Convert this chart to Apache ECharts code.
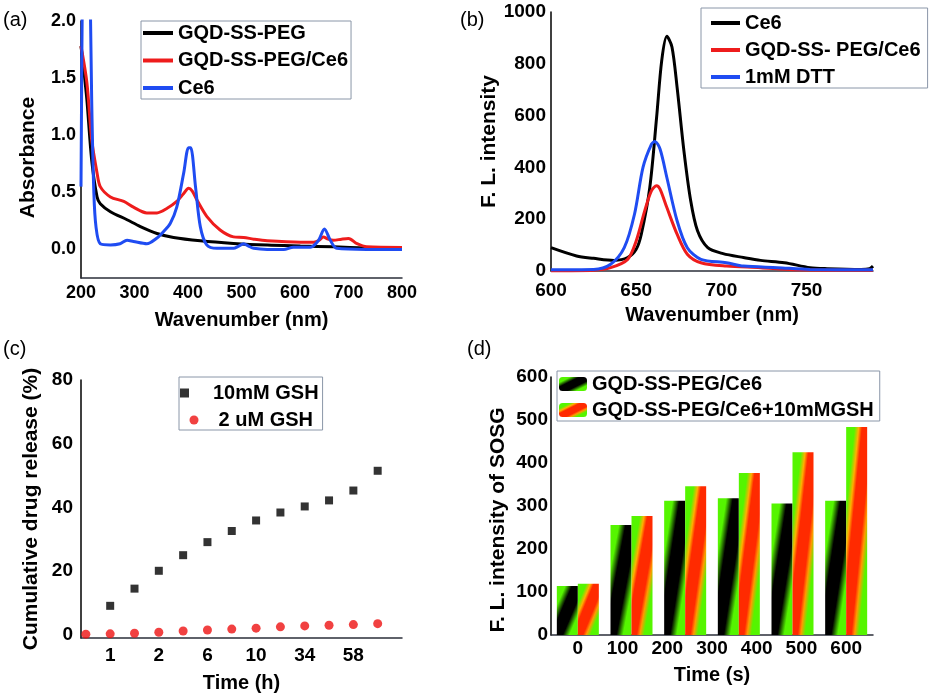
<!DOCTYPE html>
<html>
<head>
<meta charset="utf-8">
<script src="https://cdn.jsdelivr.net/npm/echarts@6/dist/echarts.min.js"></script>
<style>
  html, body { margin: 0; padding: 0; background: #fff; }
  .panel { position: absolute; left: 0; top: 0; width: 932px; height: 698px; }
</style>
</head>
<body>
<div id="pa" class="panel"></div>
<div id="pb" class="panel"></div>
<div id="pc" class="panel"></div>
<div id="pd" class="panel"></div>
<script>
// (a) absorbance, [nm, A]
const absPeg = [[200,1.78],[205,1.58],[211,1.31],[220,0.78],[230,0.46],[236,0.40],[255,0.33],[286,0.26],[311,0.20],
  [342,0.14],[373,0.105],[423,0.076],[485,0.053],[548,0.038],[610,0.03],[672,0.023],[734,0.012],[800,0.005]];
const absPegCe6 = [[200,1.78],[211,1.46],[220,0.96],[230,0.67],[236,0.55],[255,0.46],[280,0.42],[298,0.37],[323,0.32],
  [342,0.32],[361,0.36],[379,0.42],[392,0.49],[401,0.535],[408,0.51],[417,0.43],[435,0.29],[460,0.17],[485,0.11],
  [504,0.105],[523,0.09],[548,0.076],[610,0.064],[635,0.064],[645,0.08],[653,0.11],[662,0.09],[672,0.08],[687,0.09],
  [700,0.096],[716,0.05],[734,0.023],[800,0.018]];
const absCe6 = [[200,0.55],[203,2.5],[206,3.2],[213,3.2],[217,2.3],[220,1.3],[224,0.5],[228,0.2],[236,0.05],[255,0.04],
  [273,0.05],[286,0.08],[298,0.07],[323,0.05],[342,0.1],[354,0.155],[367,0.23],[379,0.37],[392,0.67],[401,0.89],
  [405,0.89],[414,0.55],[423,0.2],[435,0.04],[454,0.01],[485,0.01],[495,0.03],[504,0.05],[513,0.03],[523,0.01],
  [548,0],[579,0],[597,0.02],[629,0.02],[644,0.08],[655,0.18],[666,0.08],[678,0.01],[734,0],[800,0]];

// (b) fluorescence, [nm, intensity]
const flCe6 = [[600,90],[615,58],[625,49],[637,41],[645,52],[650,84],[653,142],[658,323],[662,594],[665,813],[668,906],
  [671,865],[674,710],[678,465],[682,271],[686,155],[692,90],[701,67],[713,52],[723,41],[737,32],[752,13],[762,9],
  [782,6],[787,9],[789,19]];
const flPegCe6 = [[600,0],[625,3],[635,13],[645,45],[650,116],[655,232],[659,310],[662,329],[664,316],[668,245],
  [674,142],[680,65],[688,32],[703,19],[723,13],[742,5],[789,3]];
const flDtt = [[600,5],[625,6],[635,26],[643,90],[649,219],[654,400],[659,490],[661,500],[664,471],[668,361],
  [674,194],[680,90],[688,45],[703,32],[713,19],[733,13],[752,6],[789,5]];

// (c) release, one value per sampling slot
const timeLabels = ['', '1', '', '2', '', '6', '', '10', '', '34', '', '58', ''];
const release10mM = [null, 9.1, 14.5, 20.1, 25.0, 29.1, 32.6, 35.9, 38.4, 40.3, 42.2, 45.3, 51.5];
const release2uM = [0.2, 0.3, 0.5, 0.8, 1.2, 1.5, 1.8, 2.1, 2.5, 2.8, 3.0, 3.2, 3.5];

// (d) SOSG bars
const sosgSlots = ['s1', 's2', 's3', 's4', 's5', 's6'];
const sosgTicks = [0, 100, 200, 300, 400, 500, 600];
const sosgCe6 = [114, 256, 312, 318, 306, 312];
const sosgGsh = [119, 277, 346, 377, 425, 484];

const FONT = 'Liberation Sans';
const txt = (size, weight) => ({ fontFamily: FONT, fontSize: size, fontWeight: weight || 'bold', color: '#000' });

function panelLabel(text, x, y) {
  return { type: 'text', left: x, top: y, style: { text: text, font: '20px ' + FONT, fill: '#000' } };
}

// shift: px to move the rotated title down
function yAxisBase(name, gap, size, shift) {
  const nameStyle = txt(21);
  if (shift) nameStyle.padding = [0, 2 * shift, 0, 0];
  return {
    type: 'value', name: name, nameLocation: 'middle', nameRotate: 90, nameGap: gap,
    nameTextStyle: nameStyle,
    axisLine: { show: true, onZero: false, lineStyle: { color: '#000', width: 1.5 } },
    axisTick: { show: false }, splitLine: { show: false },
    axisLabel: Object.assign(txt(size), { margin: 5, formatter: v => String(v) })
  };
}

function xAxisBase(name, gap, size, margin) {
  return {
    type: 'value', name: name, nameLocation: 'middle', nameGap: gap,
    nameTextStyle: txt(20),
    axisLine: { show: true, onZero: false, lineStyle: { color: '#2b2f3a', width: 1.5 } },
    axisTick: { show: false }, splitLine: { show: false },
    axisLabel: Object.assign(txt(size), { margin: margin })
  };
}

function legendBase(left, top, padding, gap, w, h) {
  return {
    left: left, top: top, orient: 'vertical', padding: padding, itemGap: gap,
    itemWidth: w, itemHeight: h, borderColor: '#8a96a8', borderWidth: 1,
    textStyle: txt(20), selectedMode: false
  };
}

function spectrum(name, data, color) {
  return {
    type: 'line', name: name, data: data, color: color, showSymbol: false, symbol: 'none',
    smooth: 0.3, lineStyle: { width: 3, color: color }
  };
}

// ---- (a)
const ya = yAxisBase('Absorbance', 42, 18, 8);
Object.assign(ya, { min: -0.25, max: 2, interval: 0.25 });
ya.axisLabel.formatter = v => (v >= 0 && Math.abs(v * 2 - Math.round(v * 2)) < 1e-6) ? v.toFixed(1) : '';
const xa = xAxisBase('Wavenumber (nm)', 32, 18, 6);
Object.assign(xa, { min: 200, max: 800, interval: 100 });

echarts.init(document.getElementById('pa')).setOption({
  animation: false,
  grid: { left: 81, top: 21, width: 321, height: 257 },
  xAxis: xa, yAxis: ya,
  legend: Object.assign(legendBase(141, 21, [2, 3, 1, 2], 7.5, 30, 4), { icon: 'rect' }),
  graphic: [panelLabel('(a)', 3, 10)],
  series: [
    spectrum('GQD-SS-PEG', absPeg, '#000'),
    spectrum('GQD-SS-PEG/Ce6', absPegCe6, '#ee1c1c'),
    spectrum('Ce6', absCe6, '#1f4cf2')
  ]
});

// ---- (b)
const yb = yAxisBase('F. L. intensity', 45, 19);
Object.assign(yb, { min: 0, max: 1000, interval: 200 });
const xb = xAxisBase('Wavenumber (nm)', 34, 19, 10);
Object.assign(xb, { min: 600, max: 789, interval: 50 });
xb.axisLabel.formatter = v => (v % 50 === 0 ? String(v) : '');

echarts.init(document.getElementById('pb')).setOption({
  animation: false,
  grid: { left: 551, top: 12, width: 322, height: 259 },
  xAxis: xb, yAxis: yb,
  legend: Object.assign(legendBase(701, 8, [5, 7, 1, 10], 7, 29, 4), { icon: 'rect' }),
  graphic: [panelLabel('(b)', 460, 10)],
  series: [
    spectrum('Ce6', flCe6, '#000'),
    spectrum('GQD-SS- PEG/Ce6', flPegCe6, '#ee1c1c'),
    spectrum('1mM DTT', flDtt, '#1f4cf2')
  ]
});

// ---- (c)
const yc = yAxisBase('Cumulative drug release (%)', 39, 19);
Object.assign(yc, { min: -1, max: 80, interval: 1 });
yc.axisLabel.margin = 8;
yc.axisLabel.formatter = v => (v >= 0 && v % 20 === 0 ? String(v) : '');
const xc = xAxisBase('Time (h)', 35, 19, 8);
Object.assign(xc, { min: -0.2, max: 13, interval: 0.2 });
xc.axisLabel.formatter = v => {
  const i = Math.round(v);
  return Math.abs(v - i) < 1e-6 && timeLabels[i] ? timeLabels[i] : '';
};
const pairs = arr => arr.map((v, i) => [i, v]).filter(p => p[1] !== null);

echarts.init(document.getElementById('pc')).setOption({
  animation: false,
  grid: { left: 81, top: 380, width: 321, height: 258 },
  xAxis: xc, yAxis: yc,
  legend: legendBase(179, 377, [6, 4, 0, 1], 7, 28, 9),
  graphic: [panelLabel('(c)', 3, 339)],
  series: [
    { type: 'scatter', name: '10mM GSH', data: pairs(release10mM), symbol: 'square', symbolSize: 8, color: '#000' },
    { type: 'scatter', name: ' 2 uM GSH', data: pairs(release2uM), symbol: 'circle', symbolSize: 9, color: '#ee1111' }
  ]
});

// ---- (d)
const GREEN = '#55f500';
const blackStops = [
  { offset: 0, color: GREEN }, { offset: 0.2, color: GREEN }, { offset: 0.36, color: '#000' },
  { offset: 0.64, color: '#000' }, { offset: 0.8, color: GREEN }, { offset: 1, color: GREEN }
];
const redStops = [
  { offset: 0, color: GREEN }, { offset: 0.2, color: GREEN }, { offset: 0.3, color: '#ffb000' },
  { offset: 0.38, color: '#ff2a00' }, { offset: 0.62, color: '#ff2a00' }, { offset: 0.7, color: '#ff9a00' },
  { offset: 0.8, color: GREEN }, { offset: 1, color: GREEN }
];
// band along the box's anti-diagonal, whatever the box's aspect
function bandGradient(w, h, stops) {
  const L2 = w * w + h * h;
  const a = h * h / L2, b = w * w / L2;
  return new echarts.graphic.LinearGradient(0.5 - a, 0.5 - b, 0.5 + a, 0.5 + b, stops);
}

const yd = yAxisBase('F. L. intensity of SOSG', 42, 19, 14);
Object.assign(yd, { min: 0, max: 600, interval: 100 });
yd.axisLabel.margin = 3;
const xdBars = {
  type: 'category', data: sosgSlots,
  axisLine: { show: true, lineStyle: { color: '#2b2f3a', width: 1.5 } },
  axisTick: { show: false }, axisLabel: { show: false }
};
const xdLabels = xAxisBase('Time (s)', 30, 19, 4);
Object.assign(xdLabels, { min: -60, max: 660, interval: 20, position: 'bottom' });
xdLabels.axisLine = { show: false };
xdLabels.axisLabel.formatter = v => (sosgTicks.includes(v) ? String(v) : '');

const BAR_W = 21;
const chartD = echarts.init(document.getElementById('pd'));
chartD.setOption({
  animation: false,
  grid: { left: 551, top: 377, width: 322, height: 258 },
  xAxis: [xdBars, xdLabels], yAxis: yd,
  legend: legendBase(557, 371, [3, 6, 1, 2], 6, 28, 14),
  graphic: [panelLabel('(d)', 467, 339)],
  series: [
    { type: 'bar', name: 'GQD-SS-PEG/Ce6', data: sosgCe6, barWidth: BAR_W, barGap: '0%',
      itemStyle: { color: bandGradient(28, 14, blackStops) } },
    { type: 'bar', name: 'GQD-SS-PEG/Ce6+10mMGSH', data: sosgGsh, barWidth: BAR_W, barGap: '0%',
      itemStyle: { color: bandGradient(28, 14, redStops) } }
  ]
});

// per-bar gradients need each bar's pixel height
const base = chartD.convertToPixel({ yAxisIndex: 0 }, 0);
const barH = v => Math.max(1, base - chartD.convertToPixel({ yAxisIndex: 0 }, v));
chartD.setOption({
  series: [
    { data: sosgCe6.map(v => ({ value: v, itemStyle: { color: bandGradient(BAR_W, barH(v), blackStops) } })) },
    { data: sosgGsh.map(v => ({ value: v, itemStyle: { color: bandGradient(BAR_W, barH(v), redStops) } })) }
  ]
});
</script>
</body>
</html>
